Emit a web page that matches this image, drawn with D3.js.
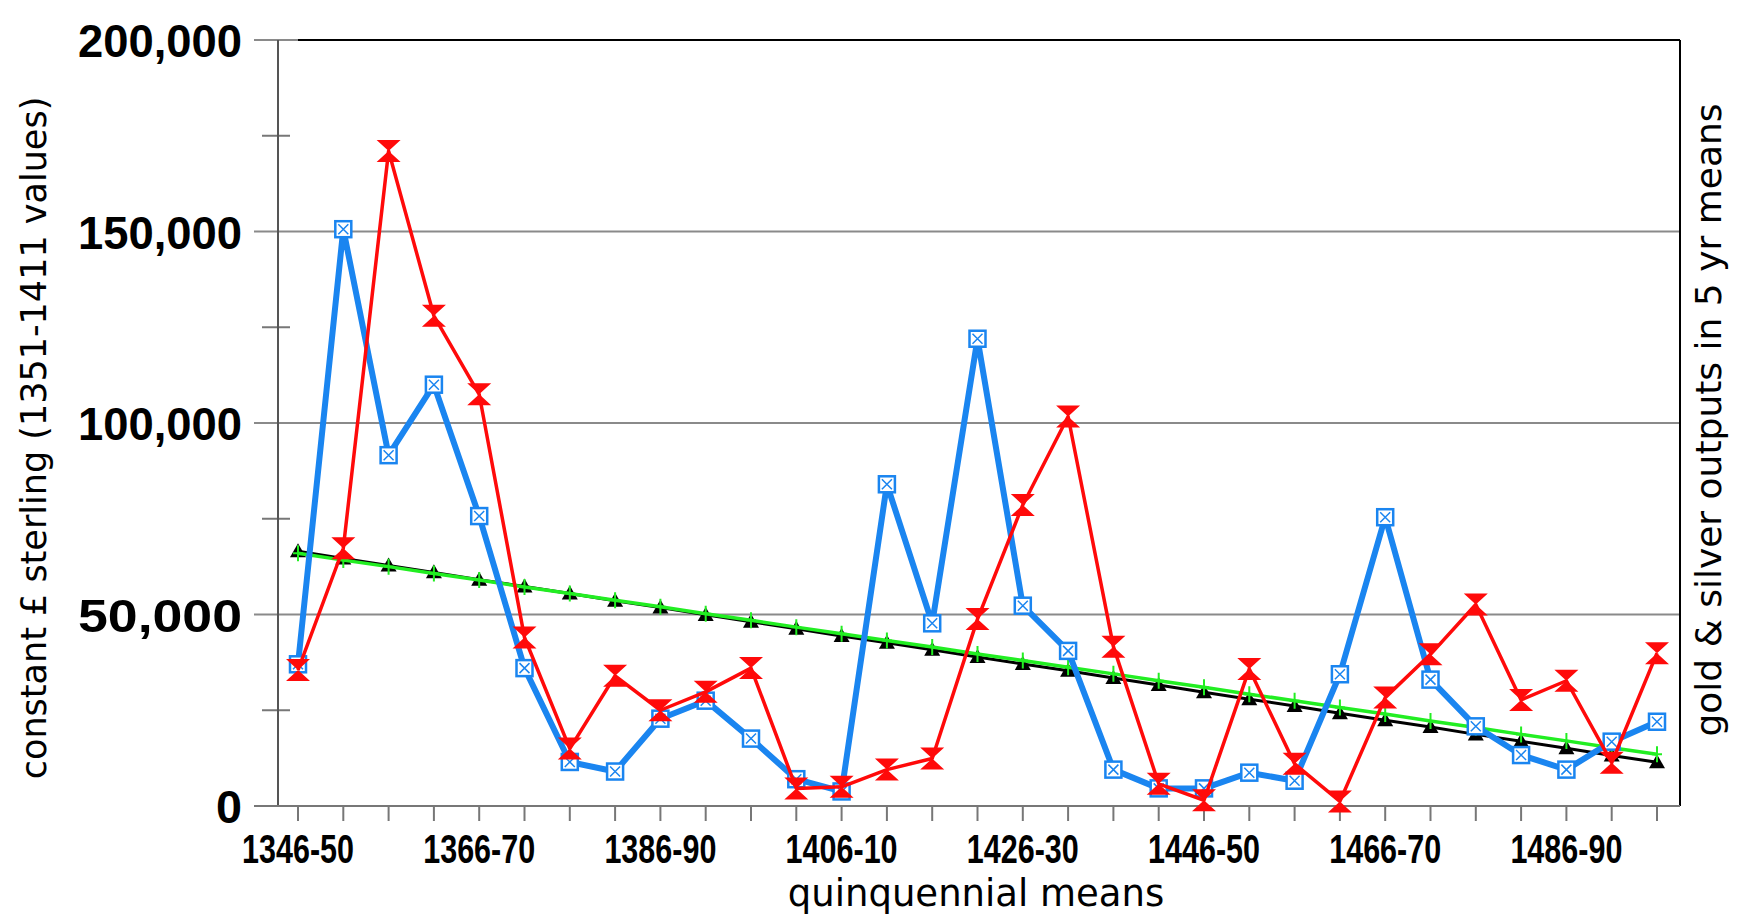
<!DOCTYPE html>
<html><head><meta charset="utf-8">
<script src="https://cdn.jsdelivr.net/npm/d3@7"></script>
<style>body{margin:0;background:#fff}text{font-family:"Liberation Sans",Arial,sans-serif}.ttl{font-family:"DejaVu Sans",Verdana,sans-serif}</style>
</head><body>
<svg id="c" width="1739" height="922"></svg>
<script>
var categories = ["1346-50","1351-55","1356-60","1361-65","1366-70","1371-75","1376-80","1381-85","1386-90","1391-95",
	"1396-1400","1401-05","1406-10","1411-15","1416-20","1421-25","1426-30","1431-35","1436-40","1441-45",
	"1446-50","1451-55","1456-60","1461-65","1466-70","1471-75","1476-80","1481-85","1486-90","1491-95","1496-1500"];
var labelled = ["1346-50","1366-70","1386-90","1406-10","1426-30","1446-50","1466-70","1486-90"];
var blueVals = [37000,150600,91600,110000,75700,36000,11500,9000,22800,27500,17600,7000,3800,84000,47700,122000,
	52300,40500,9500,4600,4600,8700,6600,34400,75400,33000,20800,13300,9500,16800,22000];
var redVals = [35500,67300,171000,128000,107500,44000,15000,34000,25000,29800,36000,4600,5000,9500,12400,48800,
	78600,101700,41600,5800,1500,35800,11000,1200,28300,39600,52600,27700,32700,11300,39900];
var blackTrend = [66500,64600,62800,61000,59100,57300,55500,53600,51800,49900,48100,46300,44400,42600,40800,38900,
	37100,35300,33400,31600,29700,27900,26100,24200,22400,20600,18700,16900,15100,13200,11400];
var greenTrend = [66000,64200,62500,60700,59000,57200,55500,53700,52000,50200,48500,46700,45000,43200,41500,39700,
	38000,36200,34500,32700,31000,29200,27500,25700,24000,22200,20500,18700,17000,15200,13500];
var yMajor = [0,50000,100000,150000,200000];
var yMinor = [25000,75000,125000,175000];

var svg = d3.select("#c"),
	L = 278, R = 1680, T = 40, B = 806;

var x = d3.scalePoint().domain(categories).range([298, 1657]);
var y = d3.scaleLinear().domain([0, 200000]).range([B, T]);

// gridlines
svg.append("g").selectAll("line").data(yMajor.slice(1)).enter().append("line")
	.attr("x1", 254).attr("x2", R).attr("y1", d => y(d)).attr("y2", d => y(d))
	.attr("stroke", d => d === 200000 ? "#000" : "#8a8a8a").attr("stroke-width", 2);
svg.append("line").attr("x1", 254).attr("x2", 298).attr("y1", y(200000)).attr("y2", y(200000))
	.attr("stroke", "#8a8a8a").attr("stroke-width", 2);
svg.append("g").selectAll("line").data(yMinor).enter().append("line")
	.attr("x1", L - 16).attr("x2", L + 12).attr("y1", d => y(d)).attr("y2", d => y(d))
	.attr("stroke", "#777").attr("stroke-width", 2);

// axes lines
svg.append("line").attr("x1", L).attr("x2", L).attr("y1", T).attr("y2", B).attr("stroke", "#555").attr("stroke-width", 2);
svg.append("line").attr("x1", R).attr("x2", R).attr("y1", T).attr("y2", B).attr("stroke", "#000").attr("stroke-width", 2);
svg.append("line").attr("x1", 254).attr("x2", R).attr("y1", B).attr("y2", B).attr("stroke", "#777").attr("stroke-width", 2);
svg.append("g").selectAll("line").data(categories).enter().append("line")
	.attr("x1", d => x(d)).attr("x2", d => x(d)).attr("y1", B).attr("y2", B + 15)
	.attr("stroke", "#777").attr("stroke-width", 2);

// y labels
svg.append("g").selectAll("text").data(yMajor).enter().append("text")
	.attr("x", 242).attr("y", d => y(d) + 17).attr("text-anchor", "end")
	.attr("font-size", 46).attr("font-weight", "bold")
	.attr("textLength", d => d ? 164 : 26).attr("lengthAdjust", "spacingAndGlyphs").text(d3.format(","));
// x labels
svg.append("g").selectAll("text").data(labelled).enter().append("text")
	.attr("x", d => x(d)).attr("y", 863).attr("text-anchor", "middle")
	.attr("font-size", 40).attr("font-weight", "bold")
	.attr("textLength", 112).attr("lengthAdjust", "spacingAndGlyphs").text(d => d);

svg.append("text").attr("class", "ttl").attr("x", 976).attr("y", 906).attr("text-anchor", "middle")
	.attr("font-size", 37).text("quinquennial means");
svg.append("text").attr("class", "ttl").attr("transform", "translate(46,438) rotate(-90)").attr("text-anchor", "middle")
	.attr("font-size", 35).text("constant £ sterling (1351-1411 values)");
svg.append("text").attr("class", "ttl").attr("transform", "translate(1721,420) rotate(-90)").attr("text-anchor", "middle")
	.attr("font-size", 36).text("gold & silver outputs in 5 yr means");

var line = d3.line().x((d, i) => x(categories[i])).y(d => y(d));

function series(vals, color, width) {
	svg.append("path").datum(vals).attr("d", line).attr("fill", "none")
		.attr("stroke", color).attr("stroke-width", width).attr("stroke-linejoin", "round");
	return svg.append("g").selectAll("g").data(vals).enter().append("g")
		.attr("transform", (d, i) => "translate(" + x(categories[i]) + "," + y(d) + ")");
}

// black trend with triangles
series(blackTrend, "#000", 3).append("path").attr("d", "M-8,6L8,6L0,-8Z").attr("fill", "#000");
// green trend with plus
series(greenTrend, "#22ee22", 3.5).append("path").attr("d", "M-5,0H5M0,-8V8")
	.attr("stroke", "#22ee22").attr("stroke-width", 2);
// blue with boxed X
var b = series(blueVals, "#1a85f0", 6);
b.append("rect").attr("x", -8).attr("y", -8).attr("width", 16).attr("height", 16)
	.attr("fill", "#fff").attr("stroke", "#1a85f0").attr("stroke-width", 2.5);
b.append("path").attr("d", "M-5,-5L5,5M5,-5L-5,5").attr("stroke", "#1a85f0").attr("stroke-width", 1.5);
// red with bowtie
series(redVals, "#ff0a0a", 3.5).append("path").attr("d", "M-12,-11L12,-11L0,0L12,11L-12,11L0,0Z").attr("fill", "#ff0a0a");
</script>
</body></html>
